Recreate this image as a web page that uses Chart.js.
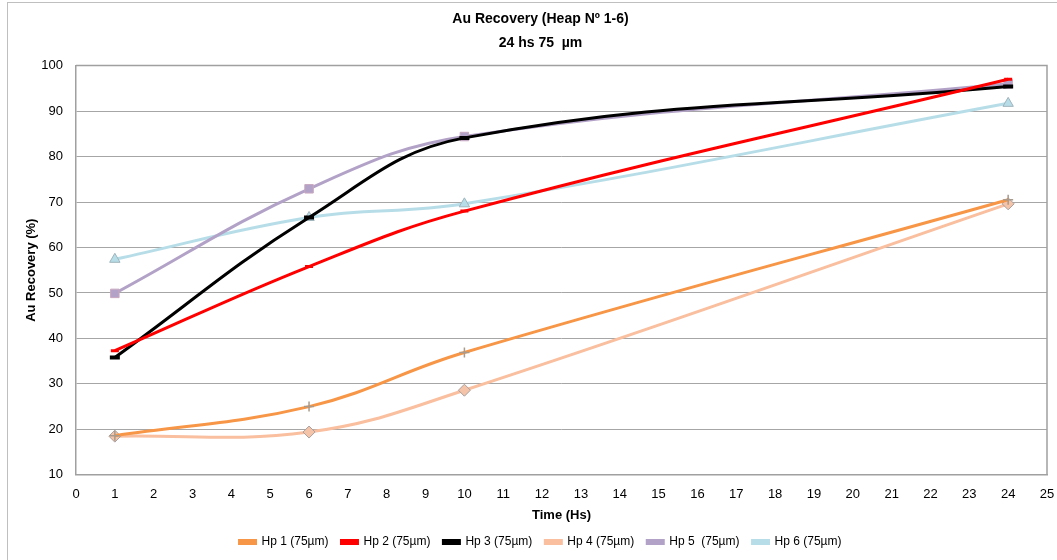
<!DOCTYPE html>
<html lang="en">
<head>
    <meta charset="UTF-8">
    <title>Au Recovery</title>
    <script src="https://cdn.jsdelivr.net/npm/chart.js"></script>
    <style>
        body { margin: 0; background: #fff; }
        #wrap { width: 1057px; height: 560px; position: relative; }
    </style>
</head>
<body>
    <div id="wrap">
        <canvas id="recoveryChart"></canvas>
    </div>

    <script>
    // sampling times (hours)
    const hours = [1, 6, 10, 24];

    // Au recovery (%) per heap
    const hp1 = [18.6, 25.0, 36.9, 70.5];
    const hp2 = [37.3, 55.8, 68.0, 97.0];
    const hp3 = [35.8, 66.6, 84.1, 95.4];
    const hp4 = [18.5, 19.4, 28.6, 69.6];
    const hp5 = [49.9, 72.9, 84.4, 96.0];
    const hp6 = [57.4, 66.6, 69.6, 91.7];

    const labels = ['Hp 1 (75µm)', 'Hp 2 (75µm)', 'Hp 3 (75µm)', 'Hp 4 (75µm)', 'Hp 5  (75µm)', 'Hp 6 (75µm)'];

    const font = "'Liberation Sans', Arial, sans-serif";

    function series(label, values, color, marker) {
        return {
            label,
            data: hours.map((h, i) => ({ x: h, y: values[i] })),
            borderColor: color,
            backgroundColor: color,
            borderWidth: 3,
            tension: 0.4,
            pointStyle: marker.style,
            pointRadius: marker.radius,
            pointBackgroundColor: marker.fill,
            pointBorderColor: marker.stroke,
            pointBorderWidth: marker.width
        };
    }

    const datasets = [
        series(labels[0], hp1, '#F79646', { style: 'cross', radius: 5, fill: '#A89A8C', stroke: '#A89A8C', width: 1.5 }),
        series(labels[1], hp2, '#FF0000', { style: 'line', radius: 4, fill: '#FF0000', stroke: '#FF0000', width: 3 }),
        series(labels[2], hp3, '#000000', { style: 'line', radius: 5, fill: '#000000', stroke: '#000000', width: 4 }),
        series(labels[3], hp4, '#F9BF9F', { style: 'rectRot', radius: 6, fill: '#F4C3A8', stroke: '#A8A0A0', width: 1 }),
        series(labels[4], hp5, '#B3A2C7', { style: 'rect', radius: 6, fill: '#B3A2C7', stroke: '#C8A8C0', width: 1 }),
        series(labels[5], hp6, '#B7DEE8', { style: 'triangle', radius: 6, fill: '#B7DEE8', stroke: '#9FB4BC', width: 1 })
    ];

    // outer chart frame and top/right edges of the plot area
    const frames = {
        id: 'frames',
        beforeDraw(chart) {
            const ctx = chart.ctx;
            ctx.save();
            ctx.strokeStyle = '#BFBFBF';
            ctx.lineWidth = 1;
            ctx.strokeRect(7.5, 2.5, 1060, 570);
            ctx.restore();
        },
        afterDatasetsDraw(chart) {
            const a = chart.chartArea;
            const ctx = chart.ctx;
            ctx.save();
            ctx.strokeStyle = '#A0A0A0';
            ctx.lineWidth = 1.5;
            ctx.beginPath();
            ctx.moveTo(a.left, a.top);
            ctx.lineTo(a.right, a.top);
            ctx.lineTo(a.right, a.bottom);
            ctx.stroke();
            ctx.restore();
        }
    };

    new Chart(document.getElementById('recoveryChart'), {
        type: 'line',
        data: { datasets },
        plugins: [frames],
        options: {
            responsive: true,
            maintainAspectRatio: false,
            animation: false,
            layout: { padding: { left: 24, right: 0, top: 7, bottom: 2 } },
            scales: {
                x: {
                    type: 'linear',
                    min: 0,
                    max: 25,
                    afterFit(scale) {
                        scale.height -= 7;
                        scale.paddingRight = 10;
                    },
                    ticks: { stepSize: 1, color: '#000', padding: 12, font: { family: font, size: 13 } },
                    grid: { display: false, drawTicks: false },
                    border: { color: '#A0A0A0', width: 1.5 },
                    title: { display: true, text: 'Time (Hs)', color: '#000', padding: { top: 0, bottom: 0 }, font: { family: font, size: 13, weight: 'bold' } }
                },
                y: {
                    min: 10,
                    max: 100,
                    afterFit(scale) { scale.width = 52; },
                    ticks: { stepSize: 10, color: '#000', padding: 13, font: { family: font, size: 13 } },
                    grid: { color: '#A6A6A6', lineWidth: 1, drawTicks: false },
                    border: { color: '#A0A0A0', width: 1.5 },
                    title: { display: true, text: 'Au Recovery (%)', color: '#000', padding: 0, font: { family: font, size: 13, weight: 'bold' } }
                }
            },
            plugins: {
                title: {
                    display: true,
                    text: ['Au Recovery (Heap Nº 1-6)', '24 hs 75  µm'],
                    color: '#000',
                    font: { family: font, size: 14, weight: 'bold', lineHeight: 1.7 },
                    padding: { top: 0, bottom: 11 }
                },
                legend: {
                    position: 'bottom',
                    labels: {
                        color: '#000',
                        boxWidth: 16,
                        boxHeight: 3,
                        padding: 13,
                        font: { family: font, size: 12 }
                    }
                },
                tooltip: { enabled: true }
            }
        }
    });
    </script>
</body>
</html>
